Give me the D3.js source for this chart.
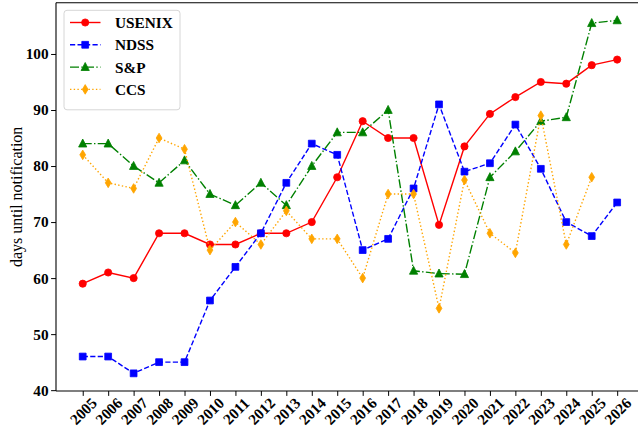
<!DOCTYPE html>
<html>
<head>
<meta charset="utf-8">
<script src="https://cdn.jsdelivr.net/npm/d3@7"></script>
<style>
  html, body { margin: 0; padding: 0; background: #fff; }
  svg { display: block; }
  text { font-family: "Liberation Serif", "Times New Roman", "DejaVu Serif", serif; }
</style>
</head>
<body>
<svg id="chart" width="638" height="433"></svg>
<script>
const years = [2005,2006,2007,2008,2009,2010,2011,2012,2013,2014,2015,2016,2017,2018,2019,2020,2021,2022,2023,2024,2025,2026];
const usenix = [59,61,60,68,68,66,66,68,68,70,78,88,85,85,69.5,83.5,89.3,92.3,95,94.7,98,99];
const ndss   = [46,46,43,45,45,56,62,68,77,84,82,65,67,76,91,79,80.5,87.4,79.5,70,67.5,73.5];
const sp     = [84,84,80,77,81,75,73,77,73,80,86,86,90,61.3,60.8,60.7,78,82.6,88,88.7,105.5,106];
const ccs    = [82,77,76,85,83,65,70,66,72,67,67,60,75,75,54.6,77.5,68,64.5,89,66,78,null];
const yTicks = [40,50,60,70,80,90,100];
const seriesNames = ["USENIX","NDSS","S&P","CCS"];

const series = [
  {name: seriesNames[0], values: usenix, color: "#ff0000", dash: null, marker: "circle"},
  {name: seriesNames[1], values: ndss, color: "#0000ff", dash: "5.2,2.3", marker: "square"},
  {name: seriesNames[2], values: sp, color: "#008000", dash: "9,2.3,1.4,2.3", marker: "triangle"},
  {name: seriesNames[3], values: ccs, color: "#ffa500", dash: "1.4,2.3", marker: "thin_diamond"}
];

const svg = d3.select("#chart");
const plotLeft = 56, plotTop = 2.7, plotBottom = 391;
const x = d3.scaleLinear().domain([2003.95, 2027.05]).range([plotLeft, plotLeft + 23.1 * 25.45]);
const y = d3.scaleLinear().domain([39.85, 109.15]).range([plotBottom, plotTop]);

const FS = 15.3;

function markerPath(type) {
  if (type === "circle") return d3.symbol().type(d3.symbolCircle).size(Math.PI * 3.6 * 3.6)();
  if (type === "square") return "M-3.4,-3.4L3.4,-3.4L3.4,3.4L-3.4,3.4Z";
  if (type === "triangle") return "M0,-4.6L4.1,3.4L-4.1,3.4Z";
  if (type === "thin_diamond") return "M0,-4.8L2.9,0L0,4.8L-2.9,0Z";
}

const line = d3.line().defined(d => d[1] !== null).x(d => x(d[0])).y(d => y(d[1]));
series.forEach(s => {
  const pts = years.map((yr, i) => [yr, s.values[i]]);
  svg.append("path")
    .attr("d", line(pts))
    .attr("fill", "none")
    .attr("stroke", s.color)
    .attr("stroke-width", 1.4)
    .attr("stroke-dasharray", s.dash);
  svg.append("g").selectAll("path")
    .data(pts.filter(d => d[1] !== null))
    .join("path")
    .attr("d", markerPath(s.marker))
    .attr("transform", d => `translate(${x(d[0])},${y(d[1])})`)
    .attr("fill", s.color)
    .attr("stroke", s.color)
    .attr("stroke-width", 0.8);
});

svg.append("line").attr("x1", plotLeft).attr("x2", plotLeft).attr("y1", plotTop).attr("y2", plotBottom)
  .attr("stroke", "#000").attr("stroke-width", 1.1);
svg.append("line").attr("x1", plotLeft).attr("x2", 638).attr("y1", plotBottom).attr("y2", plotBottom)
  .attr("stroke", "#000").attr("stroke-width", 1.1);
svg.append("line").attr("x1", plotLeft).attr("x2", 638).attr("y1", plotTop).attr("y2", plotTop)
  .attr("stroke", "#000").attr("stroke-width", 1.1);

const yAxis = d3.axisLeft(y).tickValues(yTicks).tickSize(4.9).tickPadding(2.5).tickFormat(d3.format("d"));
const gy = svg.append("g").attr("transform", `translate(${plotLeft},0)`).call(yAxis);
gy.select(".domain").remove();
gy.selectAll(".tick line").attr("stroke", "#000").attr("stroke-width", 1);
gy.selectAll(".tick text")
  .attr("font-family", "Liberation Serif, Times New Roman, serif")
  .attr("font-size", FS).attr("font-weight", "bold").attr("fill", "#000");

const xAxis = d3.axisBottom(x).tickValues(years).tickSize(4.9).tickFormat(d3.format("d"));
const gx = svg.append("g").attr("transform", `translate(0,${plotBottom})`).call(xAxis);
gx.select(".domain").remove();
gx.selectAll(".tick line").attr("stroke", "#000").attr("stroke-width", 1);
gx.selectAll(".tick text")
  .attr("font-family", "Liberation Serif, Times New Roman, serif")
  .attr("font-size", FS).attr("font-weight", "bold").attr("fill", "#000")
  .attr("text-anchor", "middle")
  .attr("dy", null)
  .attr("y", null)
  .attr("dominant-baseline", "central")
  .attr("transform", "translate(0,20) rotate(-45)");

svg.append("text")
  .attr("transform", `translate(16,${(plotTop + plotBottom) / 2}) rotate(-90)`)
  .attr("text-anchor", "middle")
  .attr("dominant-baseline", "central")
  .attr("font-size", 16)
  .attr("fill", "#000")
  .text("days until notification");

const lg = svg.append("g");
lg.append("rect")
  .attr("x", 64).attr("y", 10.3).attr("width", 116).attr("height", 99.5)
  .attr("rx", 3).attr("ry", 3)
  .attr("fill", "#fff").attr("fill-opacity", 0.8)
  .attr("stroke", "#d6d6d6").attr("stroke-width", 1);
series.forEach((s, i) => {
  const cy = 22.5 + i * 22.3;
  lg.append("line")
    .attr("x1", 70).attr("x2", 100.5).attr("y1", cy).attr("y2", cy)
    .attr("stroke", s.color).attr("stroke-width", 1.4)
    .attr("stroke-dasharray", s.dash);
  lg.append("path")
    .attr("d", markerPath(s.marker))
    .attr("transform", `translate(85.2,${cy})`)
    .attr("fill", s.color).attr("stroke", s.color).attr("stroke-width", 0.8);
  lg.append("text")
    .attr("x", 115).attr("y", cy)
    .attr("dominant-baseline", "central")
    .attr("font-size", FS).attr("font-weight", "bold").attr("fill", "#000")
    .text(s.name);
});
</script>
</body>
</html>
